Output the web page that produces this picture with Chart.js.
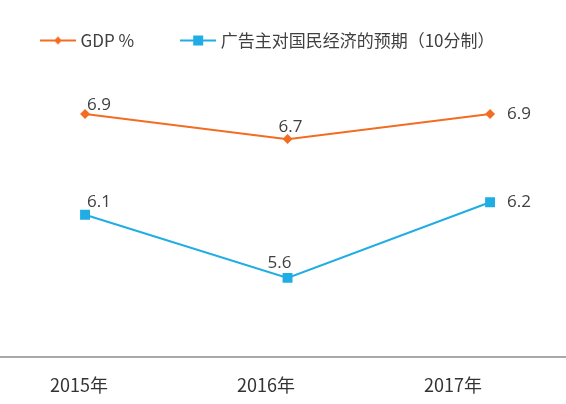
<!DOCTYPE html>
<html>
<head>
<meta charset="utf-8">
<script src="https://cdn.jsdelivr.net/npm/chart.js@4.4.0/dist/chart.umd.min.js"></script>
<style>
  html, body { margin: 0; padding: 0; background: #fff; overflow: hidden; }
  /* a bit wider than the window so the chart area (and axis line) spans edge to edge */
  #wrap { width: 580px; height: 404px; margin-left: -6px; }
</style>
</head>
<body>
<div id="wrap"><canvas id="lineChart"></canvas></div>
<script>
const years = ["2015年", "2016年", "2017年"];
const gdp = [6.9, 6.7, 6.9];
const expectation = [6.1, 5.6, 6.2];
const seriesNames = ["GDP %", "广告主对国民经济的预期（10分制）"];

const orange = "#f26d21";
const blue = "#1fade3";
const cjk = "'Noto Sans CJK SC', 'Noto Sans', sans-serif";

// label offsets from each point: [series][year] -> [dx, dy, align]
const labelOffsets = [
    [[14, -9, "center"], [3, -12, "center"], [17, 0, "left"]],
    [[14, -13, "center"], [-8, -15, "center"], [17, 0, "left"]],
];

// little line + marker swatch for the legend
const swatch = (color, marker) => {
    const c = document.createElement("canvas");
    c.width = 36;
    c.height = 12;
    const g = c.getContext("2d");
    g.strokeStyle = color;
    g.lineWidth = 2;
    g.beginPath();
    g.moveTo(0, 6);
    g.lineTo(36, 6);
    g.stroke();
    g.fillStyle = color;
    if (marker === "diamond") {
        g.beginPath();
        g.moveTo(18, 2);
        g.lineTo(22, 6);
        g.lineTo(18, 10);
        g.lineTo(14, 6);
        g.closePath();
        g.fill();
    } else {
        g.fillRect(13, 1, 10, 10);
    }
    return c;
};

const valueLabels = {
    id: "valueLabels",
    afterDatasetsDraw(chart) {
        const ctx = chart.ctx;
        ctx.save();
        ctx.font = "17px 'Open Sans', 'Noto Sans', sans-serif";
        ctx.fillStyle = "#404040";
        ctx.textBaseline = "middle";
        chart.data.datasets.forEach((ds, di) => {
            chart.getDatasetMeta(di).data.forEach((pt, i) => {
                const [dx, dy, align] = labelOffsets[di][i];
                ctx.textAlign = align;
                ctx.fillText(ds.data[i].y.toFixed(1), pt.x + dx, pt.y + dy);
            });
        });
        ctx.restore();
    },
};

const toPoints = (arr) => arr.map((v, i) => ({ x: i, y: v }));

new Chart(document.getElementById("lineChart"), {
    type: "line",
    data: {
        datasets: [
            {
                label: seriesNames[0],
                data: toPoints(gdp),
                borderColor: orange,
                backgroundColor: orange,
                borderWidth: 2,
                pointStyle: "rectRot",
                pointRadius: 5,
                pointBorderWidth: 0,
                tension: 0,
            },
            {
                label: seriesNames[1],
                data: toPoints(expectation),
                borderColor: blue,
                backgroundColor: blue,
                borderWidth: 2,
                pointStyle: "rect",
                pointRadius: 7,
                pointBorderWidth: 0,
                tension: 0,
            },
        ],
    },
    options: {
        responsive: true,
        maintainAspectRatio: false,
        animation: false,
        layout: {
            padding: { top: -18, bottom: -9, left: 0, right: 0 },
        },
        scales: {
            x: {
                type: "linear",
                display: false,
                min: -0.415,
                max: 2.38,
            },
            xLabels: {
                type: "linear",
                position: "bottom",
                min: -0.417,
                max: 2.61,
                afterBuildTicks: (axis) => {
                    axis.ticks = years.map((_, i) => ({ value: i }));
                },
                grid: { display: false, drawTicks: false },
                border: { display: true, color: "#a9a9a9", width: 2 },
                ticks: {
                    autoSkip: false,
                    maxRotation: 0,
                    padding: 17,
                    color: "#333",
                    font: { family: cjk, size: 18 },
                    callback: (v) => years[v],
                },
            },
            y: {
                display: false,
                min: 4.97,
                max: 7.335,
            },
        },
        plugins: {
            legend: {
                position: "top",
                align: "start",
                labels: {
                    usePointStyle: true,
                    pointStyleWidth: 28,
                    padding: 50,
                    color: "#404040",
                    font: { family: cjk, size: 17 },
                    generateLabels: (chart) =>
                        chart.data.datasets.map((ds, i) => ({
                            text: ds.label,
                            fontColor: "#404040",
                            pointStyle: swatch(ds.borderColor, i === 0 ? "diamond" : "square"),
                            hidden: false,
                            lineWidth: 0,
                            datasetIndex: i,
                        })),
                },
            },
            tooltip: { enabled: false },
        },
    },
    plugins: [valueLabels],
});
</script>
</body>
</html>
